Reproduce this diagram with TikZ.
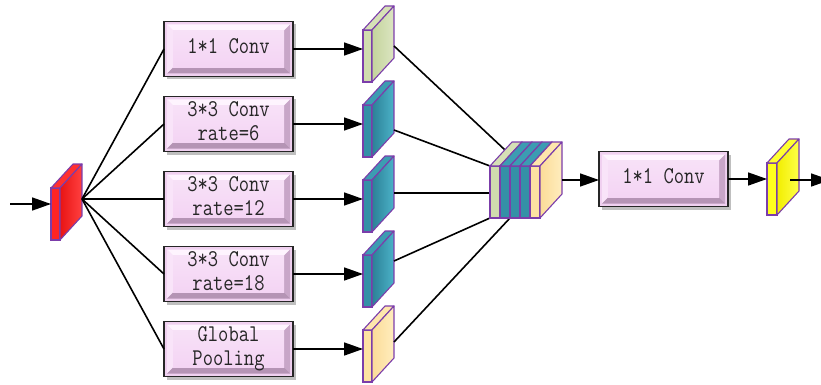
\documentclass[tikz,border=0pt]{standalone}
\usepackage{fontspec}
\usetikzlibrary{arrows.meta,calc,shadows}

% plate colours for the convolution boxes
\definecolor{platerim}{HTML}{F0D0F0}
\definecolor{plateface}{HTML}{F4D4F4}
\definecolor{platelight}{HTML}{FEF4FE}
\definecolor{platemid}{HTML}{F9E4F9}
\definecolor{platedark}{HTML}{C8A6C8}
\definecolor{platedarker}{HTML}{B594B5}
% feature map colours
\definecolor{slabline}{HTML}{7B3DAA}
\definecolor{greenfront}{HTML}{D0DCAE}
\definecolor{greentop}{HTML}{D6E0B6}
\definecolor{greensideA}{HTML}{C4D49C}
\definecolor{greensideB}{HTML}{DCE5C2}
\definecolor{tealfront}{HTML}{3490A7}
\definecolor{tealtop}{HTML}{3C9CB2}
\definecolor{tealsideA}{HTML}{2C8197}
\definecolor{tealsideB}{HTML}{4BB2C8}
\definecolor{creamfront}{HTML}{FDE2A2}
\definecolor{creamtop}{HTML}{FEE6AC}
\definecolor{creamsideA}{HTML}{FBDC98}
\definecolor{creamsideB}{HTML}{FFEDBE}
\definecolor{redfront}{HTML}{FF2424}
\definecolor{redtop}{HTML}{FF3030}
\definecolor{redsideA}{HTML}{E81414}
\definecolor{redsideB}{HTML}{FF4040}
\definecolor{yelfront}{HTML}{FFFF1E}
\definecolor{yeltop}{HTML}{FFFF30}
\definecolor{yelsideA}{HTML}{F2EE00}
\definecolor{yelsideB}{HTML}{FFFF48}

% box labels: monospaced, slightly stretched vertically
\newcommand{\boxtext}[1]{\scalebox{1}[1.2]{\ttfamily\fontsize{20}{20}\selectfont
  \begin{tabular}{@{}c@{}}#1\end{tabular}}}

% bevelled plate drawn inside each convolution box
\newcommand{\bevelplate}{%
  \coordinate (pA) at ($(path picture bounding box.north west)+(3pt,-3pt)$);
  \coordinate (pB) at ($(path picture bounding box.north east)+(-3pt,-3pt)$);
  \coordinate (pC) at ($(path picture bounding box.south east)+(-3pt,3pt)$);
  \coordinate (pD) at ($(path picture bounding box.south west)+(3pt,3pt)$);
  \coordinate (qA) at ($(pA)+(6pt,-6pt)$);
  \coordinate (qB) at ($(pB)+(-6pt,-6pt)$);
  \coordinate (qC) at ($(pC)+(-6pt,6pt)$);
  \coordinate (qD) at ($(pD)+(6pt,6pt)$);
  \fill[platelight] (pA) -- (pB) -- (qB) -- (qA) -- cycle;
  \fill[platemid] (pA) -- (qA) -- (qD) -- (pD) -- cycle;
  \fill[platedark] (pB) -- (pC) -- (qC) -- (qB) -- cycle;
  \fill[platedarker] (pD) -- (qD) -- (qC) -- (pC) -- cycle;
  \shade[top color=plateface!70!white, bottom color=plateface] (qA) rectangle (qC);
}

\tikzset{
  convbox/.style={rectangle, draw=black!85, line width=1.4pt, fill=platerim,
    minimum width=129pt, minimum height=55pt, inner sep=0pt, outer sep=0pt,
    text=black!85,
    drop shadow={shadow xshift=3pt, shadow yshift=-3pt, fill=black!50},
    path picture={\bevelplate}},
  slabfront/.style={rectangle, draw=slabline, line width=1.1pt, minimum height=52pt,
    inner sep=0pt, outer sep=0pt},
  slabedge/.style={draw=slabline, line width=1.1pt, line join=round},
  wire/.style={line width=1.6pt},
  flow/.style={line width=1.6pt, -{Triangle[length=19pt,width=13pt]}},
}

% a feature map drawn as a thin block: name, left x, top y, width, colour family
\newcommand{\slab}[5]{%
  \node[slabfront, minimum width=#4pt, fill=#5front, anchor=north west] (#1) at (#2,#3) {};
  \filldraw[slabedge, fill=#5top] (#1.north west) -- ++(22pt,24pt) -- ++(#4pt,0pt)
    -- (#1.north east) -- cycle;
  \draw[slabedge, left color=#5sideA, right color=#5sideB] (#1.north east) -- ++(22pt,24pt)
    -- ($(#1.south east)+(22pt,24pt)$) -- (#1.south east) -- cycle;
}

\begin{document}
\begin{tikzpicture}[x=1pt,y=-1pt]
\useasboundingbox (0,0) rectangle (821,385);

% branch boxes
\node[convbox] (b1) at (228.5,49)  {\boxtext{1*1 Conv}};
\node[convbox] (b2) at (228.5,124) {\boxtext{3*3 Conv\\rate=6}};
\node[convbox] (b3) at (228.5,199) {\boxtext{3*3 Conv\\rate=12}};
\node[convbox] (b4) at (228.5,274) {\boxtext{3*3 Conv\\rate=18}};
\node[convbox] (b5) at (228.5,349) {\boxtext{Global\\Pooling}};
\node[convbox] (b6) at (663.5,179) {\boxtext{1*1 Conv}};

% input feature map and fan-out
\slab{in}{51}{188}{9}{red}
\coordinate (src) at (10,204);
\draw[flow] (src) -- (src -| in.west);
\coordinate (fan) at ($(in.east)+(22pt,15pt)$);
\foreach \b in {b1,b2,b3,b4,b5}
  \draw[wire] (fan) -- (\b.west);

% branch outputs
\slab{c1}{363}{30}{9}{green}
\slab{c2}{363}{105}{9}{teal}
\slab{c3}{363}{180}{9}{teal}
\slab{c4}{363}{255}{9}{teal}
\slab{c5}{363}{330}{9}{cream}
\foreach \i in {1,...,5}
  \draw[flow] (b\i.east) -- (b\i.east -| c\i.west);

% exit points on the branch outputs
\coordinate (o1) at ($(c1.north east)+(22pt,-16pt)$);
\coordinate (o2) at ($(c2.north east)+(22pt,-25pt)$);
\coordinate (o3) at ($(c3.north east)+(22pt,-13pt)$);
\coordinate (o4) at ($(c4.north east)+(22pt,-6pt)$);
\coordinate (o5) at ($(c5.north east)+(22pt,-12pt)$);

% concatenation targets
\coordinate (k1nw) at (490,166);
\coordinate (t1) at ($(k1nw)+(15pt,16pt)$);
\coordinate (t3) at (490,193);
\coordinate (t4) at (490,218);
\coordinate (t5) at (510,218);
\draw[wire] (o1) -- (t1);
\draw[wire] (o2) -- (k1nw);
\draw[wire] (o3) -- (t3);
\draw[wire] (o4) -- (t4);
\draw[wire] (o5) -- (t5);

% concatenated block
\slab{k1}{490}{166}{10}{green}
\slab{k2}{500}{166}{10}{teal}
\slab{k3}{510}{166}{10}{teal}
\slab{k4}{520}{166}{10}{teal}
\slab{k5}{530}{166}{10}{cream}

\coordinate (kout) at ($(k5.east)+(22pt,12pt)$);
\draw[flow] (kout) -- (kout -| b6.west);

% output feature map
\slab{out}{767}{163}{10}{yel}
\draw[flow] (b6.east) -- (b6.east -| out.west);
\coordinate (oo) at ($(out.east)+(13pt,9pt)$);
\coordinate (sink) at (830,180);
\draw[flow] (oo) -- (sink);
\end{tikzpicture}
\end{document}
